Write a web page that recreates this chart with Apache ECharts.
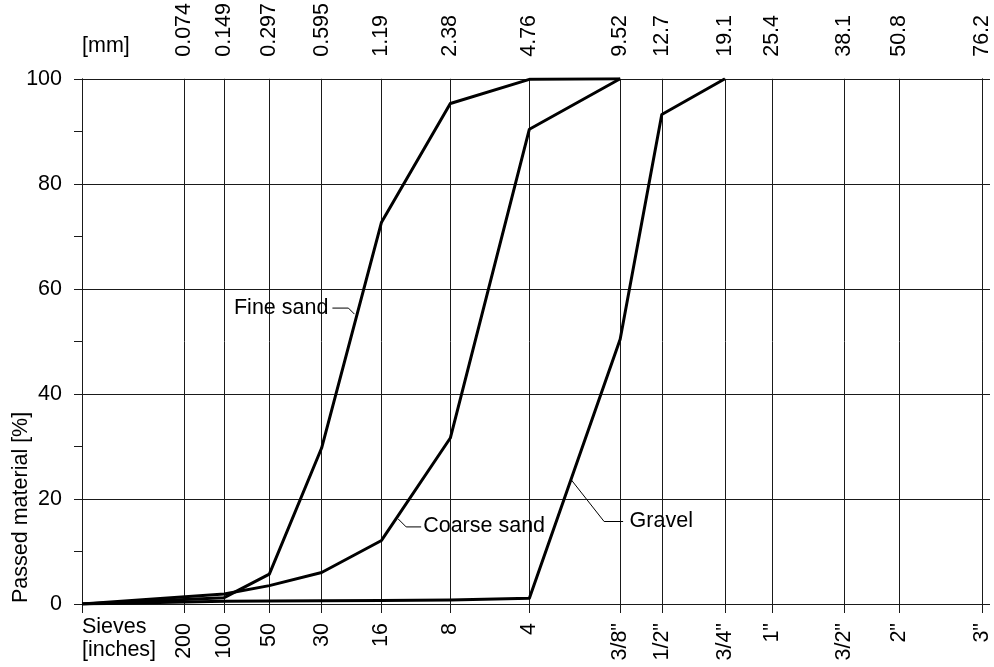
<!DOCTYPE html>
<html>
<head>
<meta charset="utf-8">
<title>Grading curves</title>
<script src="https://cdn.jsdelivr.net/npm/echarts@6/dist/echarts.min.js"></script>
<style>
  html, body { margin: 0; padding: 0; background: #fff; }
  #chart { width: 994px; height: 667px; }
</style>
</head>
<body>
<div id="chart"></div>
<script>
// Sieve openings (mm) and their designations
const sieveMm = [0.074, 0.149, 0.297, 0.595, 1.19, 2.38, 4.76, 9.52, 12.7, 19.1, 25.4, 38.1, 50.8, 76.2];
const mmLabels = ['0.074', '0.149', '0.297', '0.595', '1.19', '2.38', '4.76', '9.52', '12.7', '19.1', '25.4', '38.1', '50.8', '76.2'];
const sieveLabels = ['200', '100', '50', '30', '16', '8', '4', '3/8"', '1/2"', '3/4"', '1"', '3/2"', '2"', '3"'];

// Smallest grain size shown on the axis (mm)
const axisStartMm = 0.0065;

// Grading curves: grain size (mm) vs. passed material (%)
const fineSandMm = [0.0065, 0.149, 0.297, 0.595, 1.19, 2.38, 4.76, 9.52];
const fineSandPct = [0, 1.2, 5.7, 29.7, 72.7, 95.3, 99.9, 100];
const coarseSandMm = [0.0065, 0.149, 0.297, 0.595, 1.19, 2.38, 4.76, 9.52];
const coarseSandPct = [0, 1.9, 3.5, 6.0, 12.1, 31.6, 90.4, 100];
const gravelMm = [0.0065, 0.149, 0.297, 0.595, 1.19, 2.38, 4.76, 9.52, 12.7, 19.1];
const gravelPct = [0, 0.5, 0.55, 0.6, 0.65, 0.75, 1.1, 50.4, 93.2, 100];

// Curve labels and the point on each curve their leader line points to
const curveNames = ['Fine sand', 'Coarse sand', 'Gravel'];
const anchorMm = [0.88, 1.42, 6.6];
const anchorPct = [55.2, 16.2, 23.8];

// Leader layout, in pixels relative to the anchor: knee, end of line, text position
const leaderLayout = [
  { knee: [-6, -6], end: [-22, -6], text: [-26, -6], align: 'right' },
  { knee: [8, 8], end: [23, 8], text: [25, 7], align: 'left' },
  { knee: [33.5, 42.5], end: [52.5, 42.5], text: [59, 42], align: 'left' }
];

// Grain sizes are plotted on a 0.2-power scale
const EXP = 0.2;
const tx = mm => Math.pow(mm, EXP);

const uMin = tx(axisStartMm);
const uMax = tx(sieveMm[sieveMm.length - 1]);
const sieveU = sieveMm.map(tx);

const FONT = '"Liberation Sans", Arial, Helvetica, sans-serif';
const FS = 21.5;
const LINE = '#1a1a1a';

function nearestIndex(v) {
  let best = 0, d = Infinity;
  sieveU.forEach((u, i) => { const dd = Math.abs(u - v); if (dd < d) { d = dd; best = i; } });
  return best;
}

const toSeries = (mm, pct) => mm.map((m, i) => [tx(m), pct[i]]);

const chart = echarts.init(document.getElementById('chart'), null, { renderer: 'canvas' });

const curveStyle = { color: '#000', width: 3, join: 'round' };

const option = {
  animation: false,
  backgroundColor: '#fff',
  grid: { left: 82, right: 12, top: 77, bottom: 63, containLabel: false },
  xAxis: [
    {
      type: 'value', position: 'bottom', min: uMin, max: uMax,
      axisLine: { show: true, onZero: false, lineStyle: { color: LINE, width: 1 } },
      axisTick: { show: true, inside: false, length: 9, customValues: [uMin].concat(sieveU), lineStyle: { color: LINE, width: 1 } },
      axisLabel: {
        show: true, customValues: sieveU, rotate: 90, margin: 19,
        color: '#000', fontSize: FS, fontFamily: FONT,
        formatter: v => sieveLabels[nearestIndex(v)]
      },
      splitLine: { show: true, lineStyle: { color: LINE, width: 1 } }
    },
    {
      type: 'value', position: 'top', min: uMin, max: uMax,
      axisLine: { show: false },
      axisTick: { show: true, inside: false, length: 9, customValues: [uMin].concat(sieveU), lineStyle: { color: LINE, width: 1 } },
      axisLabel: {
        show: true, customValues: sieveU, rotate: 90, margin: 22,
        color: '#000', fontSize: FS, fontFamily: FONT,
        formatter: v => mmLabels[nearestIndex(v)]
      },
      splitLine: { show: false }
    }
  ],
  yAxis: [
    {
      type: 'value', position: 'left', min: 0, max: 100, interval: 20,
      axisLine: { show: true, lineStyle: { color: LINE, width: 1 } },
      axisTick: { show: true, inside: false, length: 8, lineStyle: { color: LINE, width: 1 } },
      minorTick: { show: true, splitNumber: 2, length: 8, lineStyle: { color: LINE, width: 1 } },
      minorSplitLine: { show: false },
      axisLabel: { margin: 20, color: '#000', fontSize: FS, fontFamily: FONT },
      splitLine: { show: true, lineStyle: { color: LINE, width: 1 } }
    },
    {
      type: 'value', position: 'right', min: 0, max: 100, interval: 20,
      axisLine: { show: true, lineStyle: { color: LINE, width: 1 } },
      axisTick: { show: true, inside: false, length: 8, lineStyle: { color: LINE, width: 1 } },
      axisLabel: { show: false },
      splitLine: { show: false }
    }
  ],
  series: [
    { name: curveNames[0], type: 'line', xAxisIndex: 0, yAxisIndex: 0, data: toSeries(fineSandMm, fineSandPct),
      showSymbol: false, symbol: 'none', lineStyle: curveStyle, z: 5 },
    { name: curveNames[1], type: 'line', xAxisIndex: 0, yAxisIndex: 0, data: toSeries(coarseSandMm, coarseSandPct),
      showSymbol: false, symbol: 'none', lineStyle: curveStyle, z: 5 },
    { name: curveNames[2], type: 'line', xAxisIndex: 0, yAxisIndex: 0, data: toSeries(gravelMm, gravelPct),
      showSymbol: false, symbol: 'none', lineStyle: curveStyle, z: 5 }
  ]
};

chart.setOption(option);

// Axis captions and curve annotations
const textStyle = (text, x, y, align) => ({
  text, x, y, fill: '#000', font: FS + 'px ' + FONT,
  textAlign: align, textVerticalAlign: 'middle', verticalAlign: 'middle'
});

const graphics = [
  { type: 'text', z: 10, style: textStyle('[mm]', 82, 46, 'left') },
  { type: 'text', z: 10, style: textStyle('Sieves', 82, 627, 'left') },
  { type: 'text', z: 10, style: textStyle('[inches]', 82, 650, 'left') },
  { type: 'text', z: 10, x: 21, y: 603, rotation: Math.PI / 2, style: textStyle('Passed material [%]', 0, 0, 'left') }
];

curveNames.forEach((name, i) => {
  const p = chart.convertToPixel({ xAxisIndex: 0, yAxisIndex: 0 }, [tx(anchorMm[i]), anchorPct[i]]);
  const L = leaderLayout[i];
  graphics.push({
    type: 'polyline', z: 10,
    shape: { points: [p, [p[0] + L.knee[0], p[1] + L.knee[1]], [p[0] + L.end[0], p[1] + L.end[1]]] },
    style: { stroke: '#000', lineWidth: 1, fill: null }
  });
  graphics.push({
    type: 'text', z: 10,
    style: textStyle(name, p[0] + L.text[0], p[1] + L.text[1], L.align)
  });
});

chart.setOption({ graphic: graphics });
</script>
</body>
</html>
